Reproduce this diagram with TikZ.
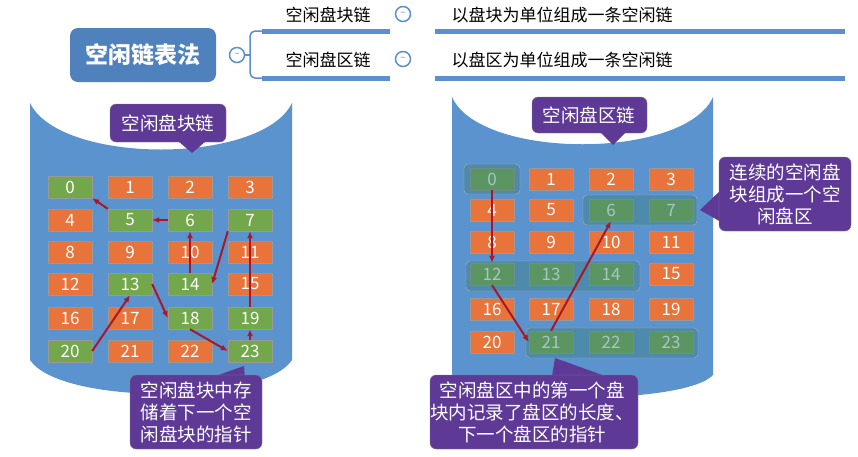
\documentclass[tikz,border=0pt]{standalone}
\usepackage{fontspec}
\setmainfont{Noto Sans CJK SC}
\usetikzlibrary{arrows.meta}
\definecolor{cyl}{HTML}{5B93CF}
\definecolor{org}{HTML}{E8743B}
\definecolor{grn}{HTML}{72A84B}
\definecolor{pur}{HTML}{5E3A96}
\definecolor{arr}{HTML}{A8182A}
\definecolor{mainb}{HTML}{4F81BD}
\definecolor{lineb}{HTML}{5B8FD0}
\tikzset{
 blk/.style={draw=black!40,minimum width=44pt,minimum height=22pt,inner sep=0pt,text=white,font=\fontsize{17}{17}\selectfont},
 ob/.style={blk,fill=org},
 gb/.style={blk,fill=grn},
 ar/.style={draw=arr,line width=2pt,-{Latex[length=7pt,width=6pt]}},
 grp/.style={draw=black!30,fill=teal!50!gray,fill opacity=0.45,rounded corners=4pt},
 call/.style={fill=pur,draw=black!50,rounded corners=6pt},
 ctext/.style={text=white,font=\fontsize{18.5}{22}\selectfont,align=center},
 minus/.style={circle,draw=lineb,line width=1.5pt,minimum size=15pt,inner sep=0pt,font=\fontsize{10}{10}\selectfont,text=lineb},
 toptxt/.style={font=\fontsize{17}{17}\selectfont},
}
\begin{document}
\begin{tikzpicture}[x=1pt,y=-1pt]
\useasboundingbox (0,0) rectangle (858,456);
\fill[white] (0,0) rectangle (858,456);
% top mind map
\node[fill=mainb,rounded corners=8pt,minimum width=146pt,minimum height=54pt,text=white,font=\bfseries\fontsize{23}{23}\selectfont] (main) at (143,55) {空闲链表法};
\node[minus] (m0) at (237,55) {--};
\draw[lineb,line width=1.5pt,rounded corners=5pt] (262,31) -- (250,31) -- (250,78) -- (262,78);
\draw[lineb,line width=1.5pt] (m0) -- (250,55);
\node[toptxt] (t1) at (328,15) {空闲盘块链};
\node[toptxt] (t2) at (328,60) {空闲盘区链};
\node[minus] (m1) at (403,14) {--};
\node[minus] (m2) at (403,59) {--};
\node[toptxt] (d1) at (562,15) {以盘块为单位组成一条空闲链};
\node[toptxt] (d2) at (562,60) {以盘区为单位组成一条空闲链};
\foreach \y in {31,78}{
 \draw[lineb,line width=5pt] (262,\y) -- (390,\y);
 \draw[lineb,line width=5pt] (435,\y) -- (845,\y);
}
% left cylinder
\fill[cyl] (30,103) -- (30,360) .. controls (60,405) and (262,405) .. (292,360) -- (292,103)
  .. controls (262,165) and (60,165) .. cycle;
% right cylinder
\fill[cyl] (452,97) -- (452,375) .. controls (480,405) and (685,405) .. (713,375) -- (713,97)
  .. controls (685,160) and (480,160) .. cycle;
% left grid
\def\lx{{70,130,190,250}}
\def\ly{{187,220,252,284,318,351}}
\foreach \i in {0,...,23}{
 \pgfmathtruncatemacro\c{mod(\i,4)}
 \pgfmathtruncatemacro\r{div(\i,4)}
 \pgfmathsetmacro\xx{\lx[\c]}
 \pgfmathsetmacro\yy{\ly[\r]}
 \def\st{ob}
 \foreach \g in {0,5,6,7,13,14,18,19,20,23}{\ifnum\g=\i\xdef\st{gb}\fi}
 \node[\st] (L\i) at (\xx,\yy) {\i};
 \xdef\st{ob}
}
% right grid
\def\rx{{492,551,611,671}}
\def\ry{{179,210,242,274,309,342}}
\foreach \i in {0,...,23}{
 \pgfmathtruncatemacro\c{mod(\i,4)}
 \pgfmathtruncatemacro\r{div(\i,4)}
 \pgfmathsetmacro\xx{\rx[\c]}
 \pgfmathsetmacro\yy{\ry[\r]}
 \def\st{ob}
 \foreach \g in {0,6,7,12,13,14,21,22,23}{\ifnum\g=\i\xdef\st{gb}\fi}
 \node[\st] (R\i) at (\xx,\yy) {\i};
 \xdef\st{ob}
}
% groups
\draw[grp] (464,164) rectangle (520,194);
\draw[grp] (583,195) rectangle (697,225);
\draw[grp] (466,261) rectangle (640,291);
\draw[grp] (526,328) rectangle (698,358);
% left arrows
\draw[ar] (L5.north west) -- (L0.south east);
\draw[ar] (L6.west) -- (L5.east);
\draw[ar] (L14.north) -- (L6.south);
\draw[ar] (L7.south west) -- (L14.east);
\draw[ar] (L19.north) -- (L7.south);
\draw[ar] (L23.north) -- (L19.south);
\draw[ar] (L18.south) -- (L23.west);
\draw[ar] (L13.east) -- (L18.west);
\draw[ar] (L20.east) -- (L13.south);
% right arrows
\draw[ar] (R0.south) -- (R12.north);
\draw[ar] (R12.south) -- (R21.west);
\draw[ar] (R21.north) -- (R6.south);
% callouts
\fill[call] (110,104) rectangle (226,142);
\fill[pur] (178,141) -- (192,153) -- (206,141) -- cycle;
\node[ctext] (c1) at (168,123) {空闲盘块链};
\fill[pur] (210,378) -- (244,366) -- (245,378) -- cycle;
\fill[call] (130,375) rectangle (262,449);
\node[ctext] (c2) at (196,412) {空闲盘块中存\\储着下一个空\\闲盘块的指针};
\fill[call] (532,97) rectangle (647,133);
\fill[pur] (600,132) -- (613,145) -- (626,132) -- cycle;
\node[ctext] (c3) at (589,115) {空闲盘区链};
\fill[pur] (721,190) -- (700,210) -- (721,222) -- cycle;
\fill[call] (719,157) rectangle (851,231);
\node[ctext] (c4) at (785,194) {连续的空闲盘\\块组成一个空\\闲盘区};
\fill[pur] (552,376) -- (555,358) -- (605,376) -- cycle;
\fill[call] (430,375) rectangle (638,449);
\node[ctext] (c5) at (532,412) {空闲盘区中的第一个盘\\块内记录了盘区的长度、\\下一个盘区的指针};
\end{tikzpicture}
\end{document}
